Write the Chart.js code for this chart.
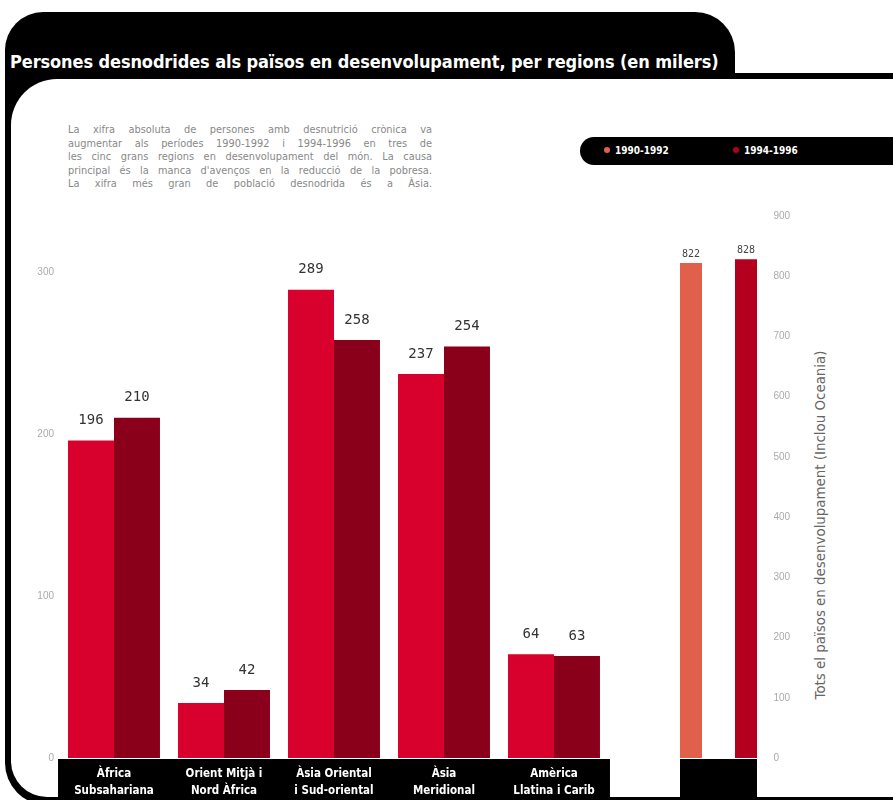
<!DOCTYPE html>
<html>
<head>
<meta charset="utf-8">
<script src="https://cdn.jsdelivr.net/npm/chart.js@4.4.0/dist/chart.umd.min.js"></script>
<style>
  body { margin: 0; width: 893px; height: 800px; overflow: hidden; background: #fff; position: relative; font-family: "DejaVu Sans", sans-serif; }
  .blk { position: absolute; background: #000; }
  #frame { left: 5px; top: 73px; width: 920px; height: 732px; border-bottom-left-radius: 42px; }
  #tab { left: 5px; top: 12px; width: 730px; height: 80px; border-radius: 38px 40px 0 0; }
  #inner { position: absolute; left: 11px; top: 79px; width: 920px; height: 718px; background: #fff; border-top-left-radius: 46px; border-bottom-left-radius: 36px; }
  #title { position: absolute; left: 10px; top: 51px; color: #fff; font: bold 18px "DejaVu Sans Condensed", sans-serif; white-space: nowrap; letter-spacing: -0.1px; }
  #intro { position: absolute; left: 68px; top: 123px; width: 364px; color: #888; font-size: 9.8px; line-height: 13.6px; text-align: justify; text-align-last: justify; }
  #legend { position: absolute; left: 580px; top: 137px; width: 330px; height: 28px; background: #000; border-radius: 14px 0 0 14px; color: #fff; font: bold 10px "DejaVu Sans Condensed", sans-serif; }
  #legend span.item { position: absolute; top: 8px; }
  #legend i { display: inline-block; width: 6px; height: 6px; border-radius: 3px; margin-right: 5px; vertical-align: 1px; }
  #ytitle { position: absolute; left: 820px; top: 525px; transform: translate(-50%, -50%) rotate(-90deg); color: #666; font-size: 13.4px; white-space: nowrap; }
  canvas { position: absolute; }
</style>
</head>
<body>
<div class="blk" id="frame"></div>
<div class="blk" id="tab"></div>
<div id="inner"></div>
<div id="title">Persones desnodrides als països en desenvolupament, per regions (en milers)</div>
<div id="intro">La xifra absoluta de persones amb desnutrició crònica va<br>augmentar als períodes 1990-1992 i 1994-1996 en tres de<br>les cinc grans regions en desenvolupament del món. La causa<br>principal és la manca d'avenços en la reducció de la pobresa.<br>La xifra més gran de població desnodrida és a Àsia.</div>
<div id="legend"></div>
<div id="ytitle">Tots el països en desenvolupament (Inclou Oceania)</div>
<div style="position:absolute;left:0;top:240px;width:630px;height:560px"><canvas id="regions"></canvas></div>
<div style="position:absolute;left:630px;top:200px;width:200px;height:600px"><canvas id="total"></canvas></div>
<script>
const regions = [['Àfrica', 'Subsahariana'], ['Orient Mitjà i', 'Nord Àfrica'], ['Àsia Oriental', 'i Sud-oriental'], ['Àsia', 'Meridional'], ['Amèrica', 'Llatina i Carib']];
const periods = ['1990-1992', '1994-1996'];
const values9092 = [196, 34, 289, 237, 64];
const values9496 = [210, 42, 258, 254, 63];
const total9092 = [822];
const total9496 = [828];
const regionTicks = [0, 100, 200, 300];
const totalTicks = [0, 100, 200, 300, 400, 500, 600, 700, 800, 900];

const totalColors = ['#e0604c', '#b4001e'];

// legend
const legend = document.getElementById('legend');
periods.forEach((p, i) => {
  const s = document.createElement('span');
  s.className = 'item';
  s.style.left = (24 + i * 129) + 'px';
  s.innerHTML = '<i style="background:' + totalColors[i] + '"></i>' + p;
  legend.appendChild(s);
});

// numbers above bars
const valueLabels = {
  id: 'valueLabels',
  afterDatasetsDraw(chart, args, opts) {
    const c = chart.ctx;
    c.save();
    c.font = opts.font;
    c.fillStyle = opts.color;
    c.textAlign = 'center';
    c.textBaseline = 'bottom';
    chart.data.datasets.forEach((ds, i) => {
      chart.getDatasetMeta(i).data.forEach((bar, j) => {
        c.fillText(ds.data[j], bar.x, bar.y - opts.gap);
      });
    });
    c.restore();
  }
};

// black strip under the bars, behind the category labels
const labelStrip = {
  id: 'labelStrip',
  beforeDraw(chart, args, opts) {
    const a = chart.chartArea;
    const first = chart.getDatasetMeta(0).data[0];
    const lastMeta = chart.getDatasetMeta(chart.data.datasets.length - 1).data;
    const last = lastMeta[lastMeta.length - 1];
    if (!first || !last) return;
    const l = first.x - first.width / 2 - opts.pad;
    const r = last.x + last.width / 2 + opts.pad;
    const c = chart.ctx;
    c.save();
    c.fillStyle = '#000';
    c.fillRect(l, a.bottom + 1, r - l, chart.height - a.bottom);
    c.restore();
  }
};

new Chart(document.getElementById('regions'), {
  type: 'bar',
  data: {
    labels: regions,
    datasets: [
      { label: periods[0], data: values9092, backgroundColor: '#d8002c' },
      { label: periods[1], data: values9496, backgroundColor: '#8a001a' }
    ]
  },
  plugins: [valueLabels, labelStrip],
  options: {
    responsive: true,
    maintainAspectRatio: false,
    animation: false,
    layout: { padding: { top: 32, right: 21, left: 0, bottom: 0 } },
    categoryPercentage: 0.836,
    barPercentage: 1,
    scales: {
      x: {
        grid: { display: false, drawTicks: false },
        border: { display: false },
        ticks: { color: '#fff', font: { family: 'DejaVu Sans Condensed', weight: 'bold', size: 11.5, lineHeight: 1.45 }, padding: 8, maxRotation: 0, autoSkip: false },
        afterFit(s) { s.height = 42; }
      },
      y: {
        min: 0, max: 300,
        afterBuildTicks(s) { s.ticks = regionTicks.map(v => ({ value: v })); },
        grid: { display: false, drawTicks: false },
        border: { display: false },
        ticks: { color: '#aaa', font: { size: 10 }, padding: 5 },
        afterFit(s) { s.width = 59; }
      }
    },
    plugins: {
      legend: { display: false },
      tooltip: { enabled: false },
      valueLabels: { font: '14px "DejaVu Sans Mono"', color: '#333', gap: 13 },
      labelStrip: { pad: 10 }
    }
  }
});

new Chart(document.getElementById('total'), {
  type: 'bar',
  data: {
    labels: [''],
    datasets: [
      { label: periods[0], data: total9092, backgroundColor: totalColors[0] },
      { label: periods[1], data: total9496, backgroundColor: totalColors[1] }
    ]
  },
  plugins: [valueLabels, labelStrip],
  options: {
    responsive: true,
    maintainAspectRatio: false,
    animation: false,
    layout: { padding: { top: 16, left: 33.5, right: 0, bottom: 0 } },
    categoryPercentage: 1,
    barPercentage: 0.4,
    scales: {
      x: {
        grid: { display: false, drawTicks: false },
        border: { display: false },
        ticks: { display: false },
        afterFit(s) { s.height = 42; }
      },
      y: {
        position: 'right',
        min: 0, max: 900,
        afterBuildTicks(s) { s.ticks = totalTicks.map(v => ({ value: v })); },
        grid: { display: false, drawTicks: false },
        border: { display: false },
        ticks: { color: '#aaa', font: { size: 10 }, padding: 0 },
        afterFit(s) { s.width = 56.5; }
      }
    },
    plugins: {
      legend: { display: false },
      tooltip: { enabled: false },
      valueLabels: { font: '10px "DejaVu Sans Mono"', color: '#444', gap: 4 },
      labelStrip: { pad: 0 }
    }
  }
});
</script>
</body>
</html>
